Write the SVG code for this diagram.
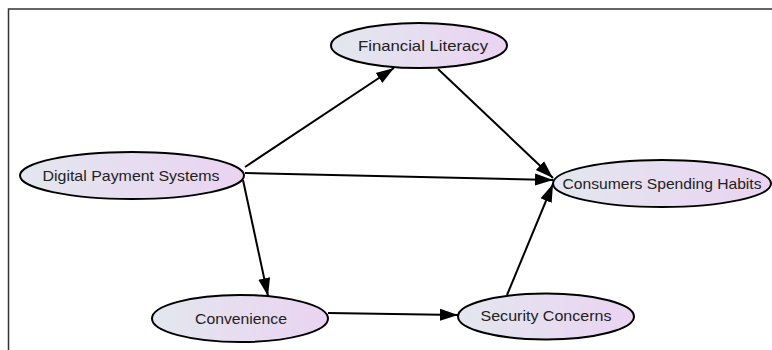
<svg xmlns="http://www.w3.org/2000/svg" width="772" height="350" viewBox="0 0 772 350">
<defs>
<linearGradient id="g" x1="0" y1="0" x2="1" y2="0">
<stop offset="0" stop-color="#e3e7ee"/>
<stop offset="1" stop-color="#ead3f2"/>
</linearGradient>
<marker id="ah" viewBox="0 0 18 14" refX="18" refY="7" markerWidth="18" markerHeight="14" markerUnits="userSpaceOnUse" orient="auto">
<path d="M0,1 L18,7 L0,13 z" fill="#000"/>
</marker>
</defs>
<style>
.n ellipse{fill:url(#g);stroke:#000;stroke-width:2}
.n text{font-family:"Liberation Sans",Arial,sans-serif;font-size:14.5px;fill:#222;text-anchor:middle;dominant-baseline:central}
.e line{stroke:#000;stroke-width:2}
</style>
<rect width="772" height="350" fill="#fff"/>
<path d="M8.5,350 V9 H772" fill="none" stroke="#333" stroke-width="1.5"/>
<g id="edges" class="e">
<line x1="245" y1="167" x2="394" y2="68" marker-end="url(#ah)"/>
<line x1="438" y1="69" x2="553" y2="178" marker-end="url(#ah)"/>
<line x1="245" y1="173" x2="553" y2="180" marker-end="url(#ah)"/>
<line x1="243" y1="180" x2="268" y2="296" marker-end="url(#ah)"/>
<line x1="328" y1="313" x2="458" y2="315" marker-end="url(#ah)"/>
<line x1="507" y1="295" x2="553" y2="184" marker-end="url(#ah)"/>
</g>
<g id="financial-literacy" class="n"><ellipse cx="419" cy="45.5" rx="88" ry="22.5"/><text x="423" y="45.5" textLength="130" lengthAdjust="spacingAndGlyphs">Financial Literacy</text></g>
<g id="digital-payment-systems" class="n"><ellipse cx="132" cy="175.5" rx="112" ry="23.5"/><text x="131" y="175.5" textLength="177" lengthAdjust="spacingAndGlyphs">Digital Payment Systems</text></g>
<g id="consumers-spending-habits" class="n"><ellipse cx="662" cy="183.5" rx="109" ry="23.5"/><text x="662" y="183.5" textLength="199" lengthAdjust="spacingAndGlyphs">Consumers Spending Habits</text></g>
<g id="convenience" class="n"><ellipse cx="240" cy="318.5" rx="88" ry="23.5"/><text x="241" y="318.5" textLength="92" lengthAdjust="spacingAndGlyphs">Convenience</text></g>
<g id="security-concerns" class="n"><ellipse cx="546" cy="316.5" rx="88" ry="23"/><text x="546" y="316" textLength="131" lengthAdjust="spacingAndGlyphs">Security Concerns</text></g>
</svg>
